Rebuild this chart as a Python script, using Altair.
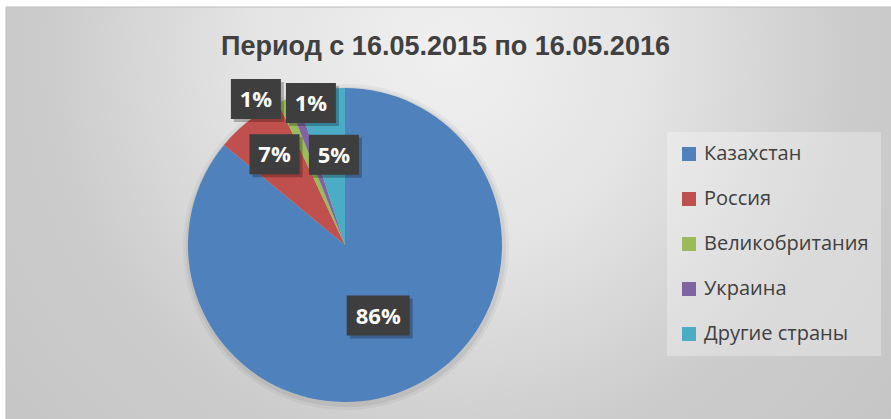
import altair as alt
import pandas as pd

# ---- data ----
countries = ["Казахстан", "Россия", "Великобритания", "Украина", "Другие страны"]
shares = [86, 7, 1, 1, 5]
labels = ["86%", "7%", "1%", "1%", "5%"]
colors = ["#4F81BD", "#C0504D", "#9BBB59", "#8064A2", "#4BACC6"]
title_text = "Период с 16.05.2015 по 16.05.2016"

# ---- layout (not data) ----
W, H = 891, 419
CX, CY, R = 345, 245, 157
label_radius = [78, 115, 171, 146, 91]
label_nudge_deg = [0, 0, -8.0, 6.3, 2]

df = pd.DataFrame({
    "country": countries,
    "share": shares,
    "label": labels,
    "order": list(range(len(countries))),
    "lr": label_radius,
    "nudge": label_nudge_deg,
})

bg_grad = alt.RadialGradient(
    gradient="radial",
    x1=0.5, y1=0.32, r1=0,
    x2=0.5, y2=0.32, r2=0.75,
    stops=[
        alt.GradientStop(color="#f0f0f0", offset=0),
        alt.GradientStop(color="#e4e4e4", offset=0.3),
        alt.GradientStop(color="#cccccc", offset=0.6),
        alt.GradientStop(color="#c2c2c2", offset=1),
    ],
)

background = alt.Chart(pd.DataFrame({"a": [0]})).mark_rect(
    fill=bg_grad, stroke="#bdbdbd", strokeWidth=1
).encode(
    x=alt.value(6), x2=alt.value(W + 2), y=alt.value(7), y2=alt.value(H + 2)
)

color_enc = alt.Color(
    "country:N",
    scale=alt.Scale(domain=countries, range=colors),
    sort=countries,
    legend=alt.Legend(
        orient="none", legendX=667, legendY=132, title=None,
        symbolType="square", symbolSize=196, symbolStrokeWidth=0,
        symbolOpacity=1,
        labelFont="Open Sans", labelFontSize=20, labelColor="#404040",
        labelOffset=5, labelLimit=400, rowPadding=25, padding=12,
        fillColor="rgba(255,255,255,0.3)",
    ),
)

shadow1 = alt.Chart(df).mark_arc(radius=R + 6, color="#000000", opacity=0.04).encode(
    theta=alt.Theta("share:Q", stack=True), order=alt.Order("order:Q"),
    x=alt.value(CX + 1), y=alt.value(CY + 2),
)
shadow2 = alt.Chart(df).mark_arc(radius=R + 3, color="#000000", opacity=0.06).encode(
    theta=alt.Theta("share:Q", stack=True), order=alt.Order("order:Q"),
    x=alt.value(CX + 1), y=alt.value(CY + 2),
)

pie = alt.Chart(df).mark_arc(radius=R).encode(
    theta=alt.Theta("share:Q", stack=True),
    color=color_enc,
    order=alt.Order("order:Q"),
    x=alt.value(CX), y=alt.value(CY),
)

lab = alt.Chart(df).transform_window(
    cum="sum(share)", sort=[alt.SortField("order")], frame=[None, 0]
).transform_joinaggregate(
    total="sum(share)"
).transform_calculate(
    ang="2*PI*(datum.cum - datum.share/2)/datum.total + datum.nudge*PI/180"
).transform_calculate(
    lx=f"{CX} + datum.lr*sin(datum.ang)",
    ly=f"{CY} - datum.lr*cos(datum.ang)",
    bw="24 + 13*length(datum.label)",
).transform_calculate(
    bx1="datum.lx - datum.bw/2", bx2="datum.lx + datum.bw/2",
    by1="datum.ly - 20", by2="datum.ly + 20",
    sx1="datum.lx - datum.bw/2 + 3", sx2="datum.lx + datum.bw/2 + 3",
    sy1="datum.ly - 17", sy2="datum.ly + 23",
)

box_shadow = lab.mark_rect(color="#000000", opacity=0.25).encode(
    x=alt.X("sx1:Q", scale=None), x2="sx2:Q",
    y=alt.Y("sy1:Q", scale=None), y2="sy2:Q",
)
box = lab.mark_rect(color="#3e3e3e").encode(
    x=alt.X("bx1:Q", scale=None), x2="bx2:Q",
    y=alt.Y("by1:Q", scale=None), y2="by2:Q",
)
txt = lab.mark_text(
    font="Open Sans", fontWeight="bold", fontSize=22, color="white",
    align="center", baseline="middle", dy=1,
).encode(
    x=alt.X("lx:Q", scale=None), y=alt.Y("ly:Q", scale=None), text="label:N",
)

chart = alt.layer(
    background, shadow1, shadow2, pie, box_shadow, box, txt
).properties(
    width=W, height=H,
    title=alt.TitleParams(
        text=title_text, font="Liberation Sans", fontSize=27, fontWeight="bold",
        color="#404040", anchor="middle", offset=0, baseline="alphabetic",
        dy=82, frame="group",
    ),
    autosize=alt.AutoSizeParams(type="none"),
    padding=0,
    background="white",
).configure_view(stroke=None)

chart.save("out.html", embed_options={"renderer": "svg", "actions": False})
